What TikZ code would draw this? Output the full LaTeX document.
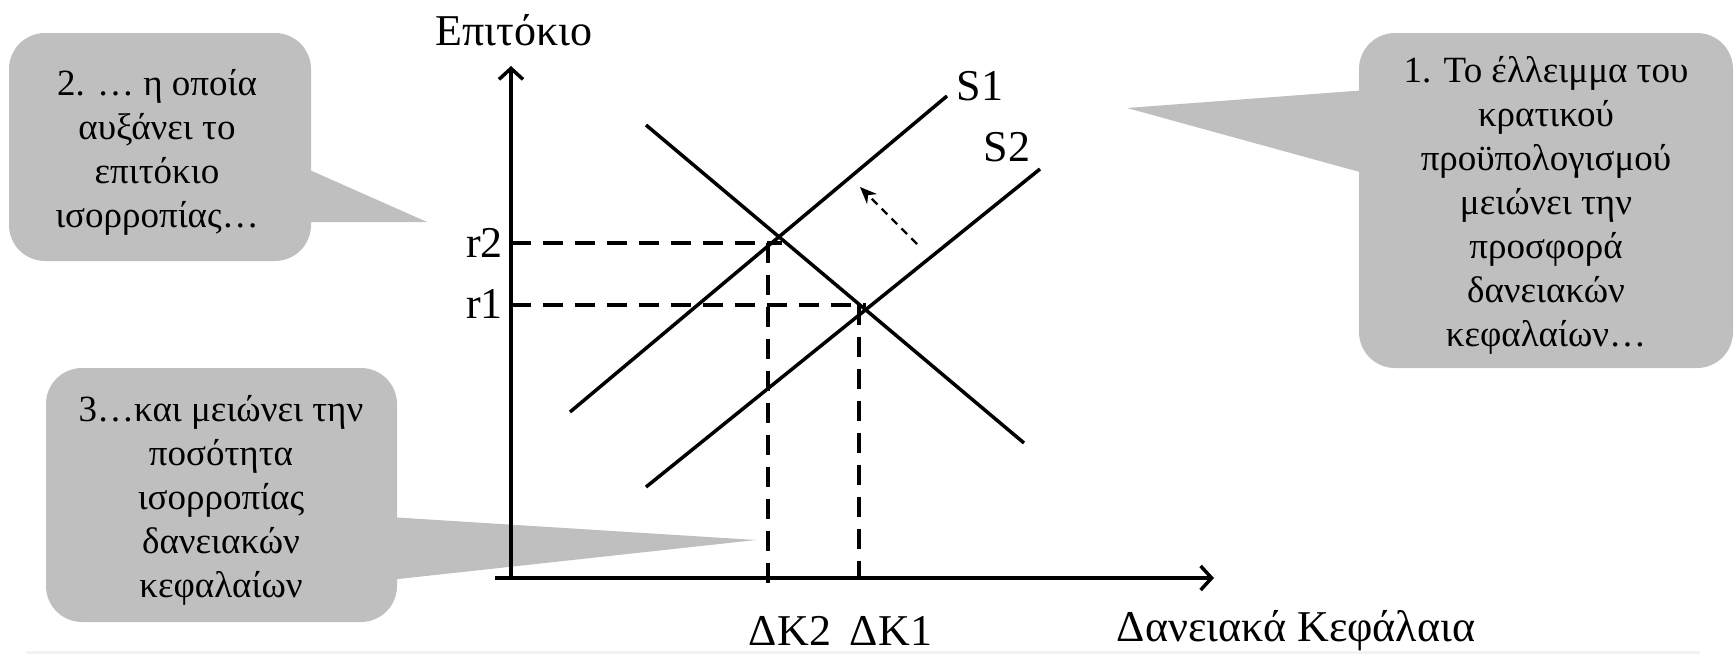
\documentclass[tikz,border=0pt]{standalone}
\usepackage{fontspec}
\setmainfont{Liberation Serif}
\usetikzlibrary{arrows.meta}
\definecolor{calloutgray}{HTML}{BFBFBF}
\definecolor{stripgray}{HTML}{F2F2F2}
\begin{document}
\begin{tikzpicture}[x=1pt,y=-1pt,
  calloutbox/.style={fill=calloutgray, draw=none, rounded corners=36pt, rectangle, inner sep=0},
  pointer/.style={fill=calloutgray, draw=none},
  ctext/.style={font=\fontsize{37}{44}\selectfont, align=center, inner sep=0},
  lbl/.style={font=\fontsize{44}{50}\selectfont, inner sep=0},
  curve/.style={line width=3.5pt},
  axis/.style={line width=3.5pt, -{Straight Barb[length=11pt,width=24pt]}},
  guide/.style={line width=3.5pt, dash pattern=on 20pt off 12pt},
  shiftarrow/.style={line width=2.2pt, dash pattern=on 8pt off 6pt, -{Stealth[length=17pt,width=14pt]}}
]
\useasboundingbox (0,0) rectangle (1735,654);
\fill[stripgray] (26,651) rectangle (1700,654);

% callout 2 (top left)
\node[calloutbox, minimum width=302pt, minimum height=228pt] (box2) at (160,147) {};
\coordinate (tip2) at (427,222);
\coordinate (b2a) at (303,167);
\coordinate (b2b) at (303,222);
\fill[pointer] (b2a) -- (tip2) -- (b2b) -- cycle;
\node[ctext] (t2) at (157,152) {2. … η οποία\\αυξάνει το\\επιτόκιο\\ισορροπίας…};

% callout 1 (top right)
\node[calloutbox, minimum width=374pt, minimum height=335pt] (box1) at (1546,200.5) {};
\coordinate (tip1) at (1127,108);
\coordinate (b1a) at (1367,90);
\coordinate (b1b) at (1367,174);
\fill[pointer] (b1a) -- (tip1) -- (b1b) -- cycle;
\node[ctext] (t1) at (1546,205) {1. Το έλλειμμα του\\κρατικού\\προϋπολογισμού\\μειώνει την\\προσφορά\\δανειακών\\κεφαλαίων…};

% callout 3 (bottom left)
\node[calloutbox, minimum width=351pt, minimum height=254pt] (box3) at (221.5,495) {};
\coordinate (tip3) at (756,540);
\coordinate (b3a) at (389,517);
\coordinate (b3b) at (389,580);
\fill[pointer] (b3a) -- (tip3) -- (b3b) -- cycle;
\node[ctext] (t3) at (221,500) {3…και μειώνει την\\ποσότητα\\ισορροπίας\\δανειακών\\κεφαλαίων};

% axes
\coordinate (O) at (511,578);
\coordinate (xs) at (495,578);
\coordinate (xe) at (1214,578);
\coordinate (ye) at (511,66);
\draw[axis] (xs) -- (xe);
\draw[axis] (O) -- (ye);

% curves
\coordinate (d1) at (646,125); \coordinate (d2) at (1024,443);
\coordinate (s1a) at (570,412); \coordinate (s1b) at (947,96);
\coordinate (s2a) at (646,487); \coordinate (s2b) at (1040,169);
\draw[curve] (d1) -- (d2);
\draw[curve] (s1a) -- (s1b);
\draw[curve] (s2a) -- (s2b);

% guides
\coordinate (r2a) at (511,243); \coordinate (r2b) at (782,243);
\coordinate (k2a) at (768,243); \coordinate (k2b) at (768,592);
\coordinate (r1a) at (511,305); \coordinate (r1b) at (866,305);
\coordinate (k1a) at (859,305); \coordinate (k1b) at (859,578);
\draw[guide] (r2a) -- (r2b);
\draw[guide] (k2a) -- (k2b);
\draw[guide] (r1a) -- (r1b);
\draw[guide] (k1a) -- (k1b);

% shift arrow
\coordinate (sa) at (917,244); \coordinate (sb) at (860,187);
\draw[shiftarrow] (sa) -- (sb);

% labels
\node[lbl] (ylab) at (514,30) {Επιτόκιο};
\node[lbl, anchor=east] (lr2) at (503,243) {r2};
\node[lbl, anchor=east] (lr1) at (503,304) {r1};
\node[lbl] (ls1) at (980,86) {S1};
\node[lbl] (ls2) at (1007,147) {S2};
\node[lbl] (lk2) at (790,631) {ΔΚ2};
\node[lbl] (lk1) at (891,631) {ΔΚ1};
\node[lbl] (xlab) at (1296,631) {Δανειακά Κεφάλαια};
\end{tikzpicture}
\end{document}
